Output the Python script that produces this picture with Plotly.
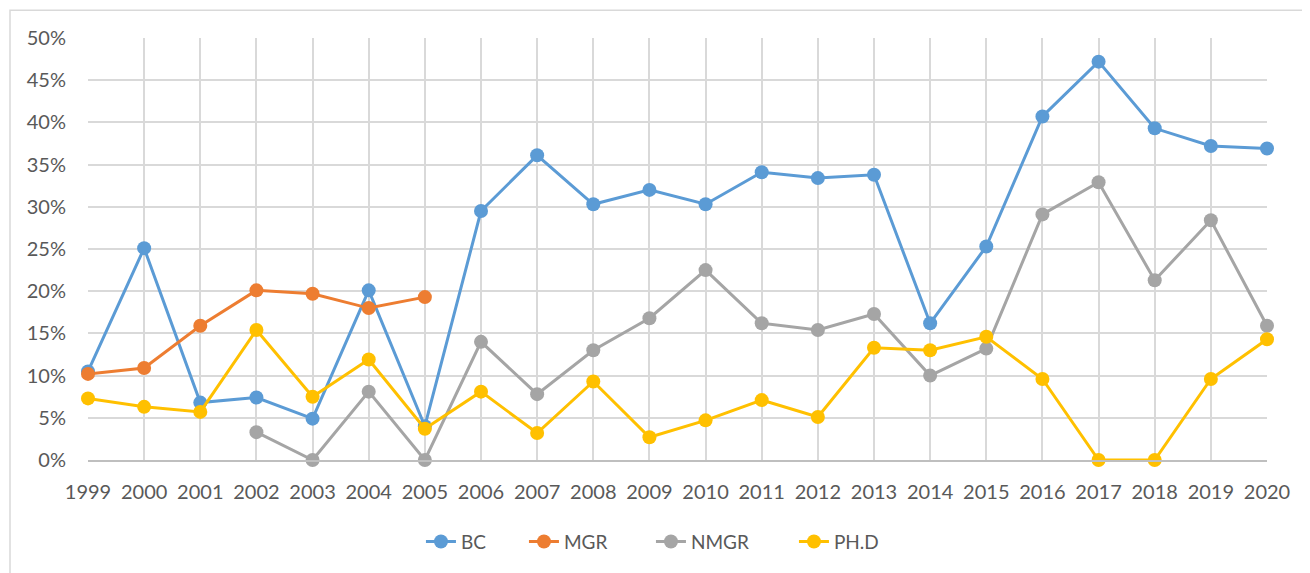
import plotly.graph_objects as go

years = [str(y) for y in range(1999, 2021)]

bc = [10.5, 25.1, 6.8, 7.4, 4.9, 20.1, 4.0, 29.5, 36.1, 30.3, 32.0, 30.3,
      34.1, 33.4, 33.8, 16.2, 25.3, 40.7, 47.2, 39.3, 37.2, 36.9]
mgr = [10.2, 10.9, 15.9, 20.1, 19.7, 18.0, 19.3] + [None] * 15
nmgr = [None, None, None, 3.3, 0.0, 8.1, 0.0, 14.0, 7.8, 13.0, 16.8, 22.5,
        16.2, 15.4, 17.3, 10.0, 13.2, 29.1, 32.9, 21.3, 28.4, 15.9]
phd = [7.3, 6.3, 5.7, 15.4, 7.5, 11.9, 3.7, 8.1, 3.2, 9.3, 2.7, 4.7,
       7.1, 5.1, 13.3, 13.0, 14.6, 9.6, 0.0, 0.0, 9.6, 14.3]

series = [("BC", bc, "#5B9BD5", 58), ("MGR", mgr, "#ED7D31", 82),
          ("NMGR", nmgr, "#A5A5A5", 98), ("PH.D", phd, "#FFC000", 55)]

y_ticks = list(range(0, 51, 5))
y_labels = [f"{v}%" for v in y_ticks]

fig = go.Figure()
for name, vals, col, lw in series:
    fig.add_trace(go.Scatter(
        x=years, y=vals, name=name, mode="lines+markers",
        line=dict(color=col, width=3),
        marker=dict(color=col, size=14),
        cliponaxis=False, legendwidth=lw,
    ))

FONT = "Lato, 'Open Sans', sans-serif"
W, H = 1302, 565   # page has an 8px body offset
L, R, T, B = 80, 43, 30, 111
pw, ph = W - L - R, H - T - B

fig.update_layout(
    width=W, height=H,
    margin=dict(l=L, r=R, t=T, b=B),
    paper_bgcolor="white", plot_bgcolor="white",
    font=dict(family=FONT, size=20, color="#595959"),
    showlegend=True,
    legend=dict(orientation="h", x=0.483, xanchor="center",
                y=-82 / ph, yanchor="middle",
                font=dict(size=19, color="#595959")),
    xaxis=dict(type="category", range=[0, len(years) - 1],
               showgrid=True, gridcolor="#D9D9D9", gridwidth=1.5,
               showline=True, linecolor="#BFBFBF", linewidth=1.5,
               ticks="", ticklabelstandoff=13, fixedrange=True),
    yaxis=dict(range=[0, 50], tickvals=y_ticks, ticktext=y_labels,
               showgrid=True, gridcolor="#D9D9D9", gridwidth=1.5,
               zeroline=False, showline=False,
               ticks="", ticklabelstandoff=21, fixedrange=True),
    shapes=[dict(type="rect", xref="paper", yref="paper",
                 x0=(2 - L) / pw, x1=(W + 20 - L) / pw,
                 y0=-(H + 20 - T - ph) / ph, y1=1 + (T - 2) / ph,
                 line=dict(color="#D9D9D9", width=1.5), layer="below")],
)

fig.write_html("out.html")
